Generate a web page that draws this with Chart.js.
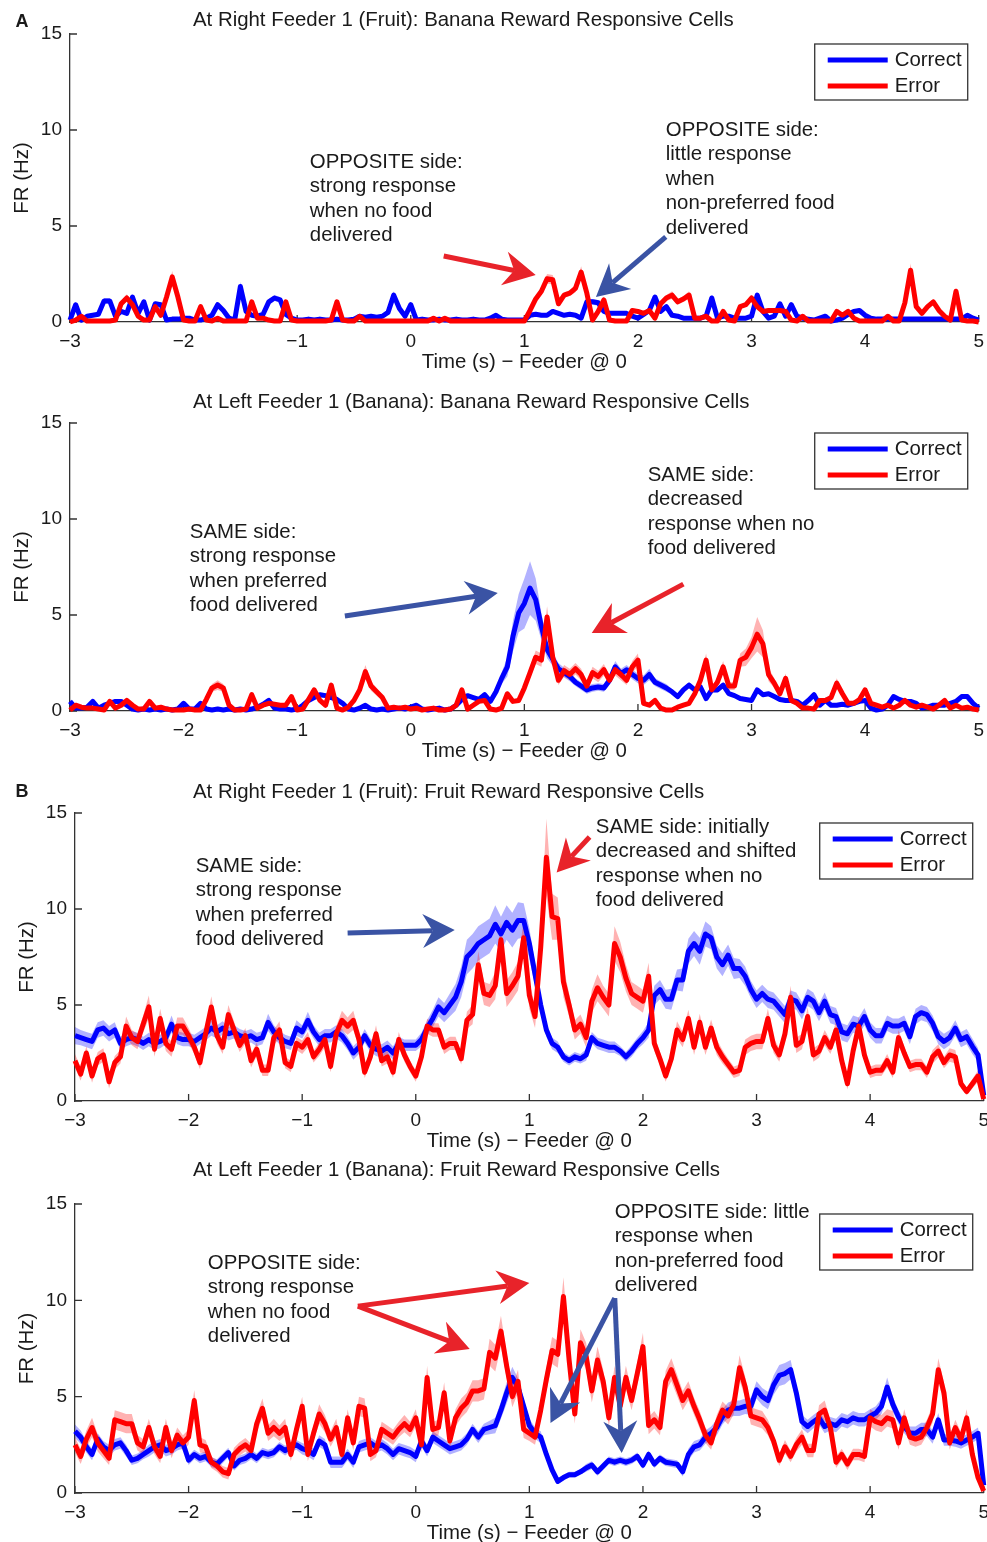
<!DOCTYPE html>
<html>
<head>
<meta charset="utf-8">
<title>Reward responsive cells</title>
<script src="https://cdn.jsdelivr.net/npm/chart.js@4.4.1/dist/chart.umd.min.js"></script>
<style>
  html, body { margin: 0; padding: 0; background: #fff; }
  body { width: 987px; height: 1542px; position: relative; overflow: hidden; }
  canvas { position: absolute; left: 0; }
</style>
</head>
<body>
<canvas id="c1" width="992" height="385" style="top:0px"></canvas>
<canvas id="c2" width="992" height="385" style="top:385px"></canvas>
<canvas id="c3" width="997" height="385" style="top:770px"></canvas>
<canvas id="c4" width="997" height="387" style="top:1155px"></canvas>
<script>
// 50 ms bins from -3 s to +5 s around feeder arrival
const BIN_START = -3, BIN_WIDTH = 0.05, BIN_COUNT = 161;
const timeBins = Array.from({length: BIN_COUNT}, (_, i) => +(BIN_START + i * BIN_WIDTH).toFixed(2));

const xTickLabels = ['\u22123', '\u22122', '\u22121', '0', '1', '2', '3', '4', '5'];
const yTickLabels = ['0', '5', '10', '15'];
const seriesNames = ['Correct', 'Error'];

// A, right feeder: banana cells (one row = one second)
const aRightCorrect = [
  0.1,0.9,0.1,0.3,0.35,0.4,1.1,1.1,0.3,0.55,0.45,1.3,0.45,1.05,0.1,0.95,0.9,0.1,0.15,0.15,
  0.2,0.2,0.1,0.1,0.2,0.35,0.9,0.6,0.2,0.1,1.85,0.55,0.35,0.3,0.4,1.05,1.25,1.15,0.4,0.2,
  0.1,0.1,0.15,0.1,0.15,0.1,0.1,0.15,0.1,0.1,0.15,0.3,0.25,0.3,0.25,0.3,0.5,1.4,0.7,0.3,
  0.9,0.1,0.15,0.1,0.1,0.15,0.1,0.1,0.15,0.1,0.1,0.15,0.1,0.1,0.2,0.35,0.15,0.1,0.1,0.1,
  0.1,0.35,0.4,0.35,0.35,0.55,0.45,0.35,0.4,0.35,0.2,1.05,1.05,1.0,0.55,0.45,0.45,0.45,0.45,0.3,
  0.2,0.4,0.6,1.3,0.55,0.8,0.35,0.3,0.2,0.2,0.2,0.2,0.3,1.25,0.2,0.3,0.3,0.2,0.2,0.2,
  0.3,1.4,0.55,0.2,0.3,0.95,0.3,0.9,0.3,0.2,0.15,0.1,0.2,0.3,0.05,0.1,0.2,0.4,0.55,0.6,
  0.35,0.2,0.15,0.15,0.15,0.15,0.15,0.15,0.15,0.15,0.15,0.15,0.15,0.15,0.15,0.15,0.15,0.15,0.35,0.2,
  0.1];
const aRightCorrectSem = [
  0.08,0.15,0.08,0.1,0.1,0.1,0.15,0.15,0.1,0.1,0.1,0.15,0.1,0.15,0.08,0.12,0.12,0.08,0.08,0.08,
  0.08,0.08,0.08,0.08,0.08,0.1,0.12,0.1,0.08,0.08,0.25,0.1,0.1,0.1,0.1,0.15,0.15,0.15,0.1,0.08,
  0.08,0.08,0.08,0.08,0.08,0.08,0.08,0.08,0.08,0.08,0.08,0.08,0.08,0.08,0.08,0.08,0.1,0.2,0.12,0.1,
  0.12,0.08,0.08,0.08,0.08,0.08,0.08,0.08,0.08,0.08,0.08,0.08,0.08,0.08,0.08,0.08,0.08,0.08,0.08,0.08,
  0.08,0.1,0.1,0.1,0.1,0.12,0.1,0.1,0.1,0.1,0.08,0.15,0.15,0.15,0.1,0.1,0.1,0.1,0.1,0.08,
  0.08,0.1,0.1,0.15,0.1,0.1,0.08,0.08,0.08,0.08,0.08,0.08,0.08,0.15,0.08,0.08,0.08,0.08,0.08,0.08,
  0.08,0.15,0.1,0.08,0.08,0.12,0.08,0.12,0.08,0.08,0.08,0.08,0.08,0.08,0.08,0.08,0.08,0.1,0.1,0.1,
  0.08,0.08,0.08,0.08,0.08,0.08,0.08,0.08,0.08,0.08,0.08,0.08,0.08,0.08,0.08,0.08,0.08,0.08,0.1,0.08,
  0.08];
const aRightError = [
  0,0.1,0.3,0.05,0.05,0.05,0.05,0.05,0.1,0.95,1.25,0.9,0.3,0.1,0.1,0.8,0.35,1.3,2.35,1.3,
  0.1,0.05,0.05,0.8,0.1,0.05,0.2,0.05,0.05,0.05,0.05,0.05,1.05,0.2,0.2,0.1,0.05,0.05,1.05,0.1,
  0.05,0.05,0.05,0.05,0.05,0.05,0.1,1.05,0.1,0.05,0.05,0.3,0.05,0.05,0.05,0.05,0.05,0.05,0.05,0.05,
  0.05,0.05,0.05,0.05,0.2,0.05,0.2,0.05,0.05,0.05,0.05,0.05,0.05,0.05,0.05,0.05,0.05,0.05,0.05,0.05,
  0.05,0.6,1.2,1.6,2.25,2.2,0.95,1.4,1.5,1.75,2.6,1.5,0.1,0.55,1.15,0.1,0.05,0.05,0.05,0.6,
  0.55,0.45,0.6,0.2,0.95,1.25,1.4,1.05,1.2,1.4,0.2,0.2,0.3,0.05,0.05,0.55,0.1,0.05,0.8,0.9,
  1.25,0.8,0.55,0.6,0.6,0.6,0.55,0.1,0.05,0.3,0.05,0.05,0.05,0.05,0.05,0.55,0.35,0.55,0.2,0.05,
  0.05,0.05,0.05,0.05,0.3,0.05,0.05,1.0,2.7,0.8,0.45,0.8,1.05,0.6,0.3,0.1,1.6,0.1,0.05,0.05,
  0];
const aRightErrorSem = [
  0.05,0.05,0.05,0.05,0.05,0.05,0.05,0.05,0.05,0.15,0.2,0.15,0.05,0.05,0.05,0.1,0.05,0.15,0.3,0.15,
  0.05,0.05,0.05,0.1,0.05,0.05,0.05,0.05,0.05,0.05,0.05,0.05,0.15,0.05,0.05,0.05,0.05,0.05,0.15,0.05,
  0.05,0.05,0.05,0.05,0.05,0.05,0.05,0.15,0.05,0.05,0.05,0.05,0.05,0.05,0.05,0.05,0.05,0.05,0.05,0.05,
  0.05,0.05,0.05,0.05,0.05,0.05,0.05,0.05,0.05,0.05,0.05,0.05,0.05,0.05,0.05,0.05,0.05,0.05,0.05,0.05,
  0.05,0.1,0.15,0.2,0.25,0.25,0.15,0.15,0.15,0.2,0.3,0.2,0.05,0.1,0.15,0.05,0.05,0.05,0.05,0.1,
  0.1,0.1,0.1,0.05,0.15,0.15,0.2,0.15,0.15,0.2,0.05,0.05,0.05,0.05,0.05,0.1,0.05,0.05,0.1,0.1,
  0.15,0.1,0.1,0.1,0.1,0.1,0.1,0.05,0.05,0.05,0.05,0.05,0.05,0.05,0.05,0.1,0.05,0.1,0.05,0.05,
  0.05,0.05,0.05,0.05,0.05,0.05,0.05,0.15,0.35,0.15,0.1,0.1,0.15,0.1,0.05,0.05,0.2,0.05,0.05,0.05,
  0.05];

// A, left feeder: banana cells
const aLeftCorrect = [
  0.5,0.15,0.15,0.2,0.5,0.15,0.3,0.4,0.5,0.5,0.3,0.1,0.05,0.1,0.05,0.1,0.05,0.1,0.05,0.1,
  0.4,0.1,0.1,0.4,0.1,0.05,0.1,0.05,0.1,0.05,0.1,0.05,0.1,0.2,0.35,0.55,0.15,0.1,0.1,0.05,
  0.1,0.3,0.55,0.7,0.85,0.8,0.7,0.6,0.4,0.1,0.05,0.15,0.3,0.1,0.05,0.1,0.05,0.1,0.15,0.1,
  0.2,0.3,0.1,0.05,0.1,0.15,0.05,0.1,0.3,0.6,0.8,0.7,0.6,0.85,0.5,1.0,1.7,2.3,3.9,5.1,
  5.6,6.4,5.8,4.4,3.2,2.7,2.2,2.0,1.8,1.5,1.3,1.1,1.2,1.25,1.2,1.6,2.3,1.95,2.15,1.9,
  1.7,1.6,1.9,1.5,1.35,1.2,1.0,0.75,1.1,1.35,1.1,1.25,0.65,1.1,1.1,1.35,0.9,0.8,0.65,0.6,
  0.55,1.1,0.85,0.9,0.75,0.6,0.55,0.55,0.5,0.3,0.55,0.85,0.3,0.55,0.3,0.3,0.35,0.3,0.4,0.5,
  0.55,0.15,0.05,0.1,0.3,0.75,0.6,0.5,0.5,0.4,0.15,0.2,0.3,0.3,0.3,0.4,0.5,0.75,0.75,0.4,
  0.15];
const aLeftCorrectSem = [
  0.08,0.08,0.08,0.08,0.08,0.08,0.08,0.08,0.08,0.08,0.08,0.08,0.08,0.08,0.08,0.08,0.08,0.08,0.08,0.08,
  0.08,0.08,0.08,0.08,0.08,0.08,0.08,0.08,0.08,0.08,0.08,0.08,0.08,0.08,0.08,0.08,0.08,0.08,0.08,0.08,
  0.08,0.1,0.1,0.12,0.12,0.12,0.1,0.1,0.08,0.08,0.08,0.08,0.08,0.08,0.08,0.08,0.08,0.08,0.08,0.08,
  0.08,0.08,0.08,0.08,0.08,0.08,0.08,0.08,0.08,0.08,0.08,0.08,0.08,0.08,0.1,0.15,0.3,0.5,0.8,1.0,
  1.3,1.4,1.1,0.7,0.45,0.35,0.3,0.25,0.25,0.2,0.2,0.2,0.2,0.2,0.2,0.25,0.3,0.25,0.25,0.25,
  0.25,0.25,0.3,0.2,0.2,0.2,0.15,0.15,0.15,0.15,0.15,0.15,0.1,0.12,0.12,0.15,0.12,0.1,0.1,0.1,
  0.1,0.1,0.1,0.1,0.1,0.1,0.1,0.1,0.1,0.1,0.1,0.1,0.1,0.1,0.1,0.1,0.1,0.1,0.1,0.1,
  0.08,0.08,0.08,0.08,0.08,0.08,0.08,0.08,0.08,0.08,0.08,0.08,0.08,0.08,0.08,0.08,0.08,0.08,0.08,0.08,
  0.08];
const aLeftError = [
  0.05,0.3,0.2,0.15,0.15,0.1,0.05,0.5,0.15,0.3,0.55,0.3,0.1,0.1,0.5,0.15,0.2,0.1,0.05,0.05,
  0.05,0.1,0.05,0.05,0.6,1.2,1.35,1.2,0.3,0.05,0.05,0.1,0.85,0.15,0.3,0.4,0.35,0.3,0.3,0.75,
  0.05,0.1,0.6,1.1,0.55,0.3,1.35,0.15,0.05,0.2,0.55,1.1,2.05,1.3,1.0,0.7,0.15,0.2,0.15,0.2,
  0.1,0.15,0.05,0.1,0.15,0.05,0.05,0.1,0.3,1.1,0.1,0.3,0.5,0.55,0.1,0.05,0.15,0.9,0.5,0.55,
  1.2,2.0,2.8,2.65,4.9,2.8,1.6,2.1,1.9,2.2,1.9,1.3,2.0,1.8,2.15,1.6,2.15,1.9,1.6,2.3,
  2.65,0.4,0.3,0.55,0.15,0.05,0.05,0.2,0.3,0.4,0.9,1.6,2.65,1.1,1.5,2.3,1.3,1.3,2.65,2.8,
  3.3,4.0,3.5,1.9,1.45,0.9,1.7,0.55,0.4,0.15,0.15,0.1,0.55,0.55,0.7,1.45,0.9,0.4,0.4,0.6,
  1.1,0.4,0.3,0.2,0.3,0.15,0.3,0.55,0.3,0.2,0.3,0.2,0.1,0.3,0.55,0.15,0.3,0.15,0.2,0.1,
  0.05];
const aLeftErrorSem = [
  0.05,0.05,0.05,0.05,0.05,0.05,0.05,0.05,0.05,0.05,0.05,0.05,0.05,0.05,0.05,0.05,0.05,0.05,0.05,0.05,
  0.05,0.05,0.05,0.05,0.1,0.2,0.25,0.2,0.05,0.05,0.05,0.05,0.1,0.05,0.05,0.05,0.05,0.05,0.05,0.05,
  0.05,0.05,0.1,0.15,0.1,0.05,0.15,0.05,0.05,0.05,0.1,0.2,0.35,0.25,0.2,0.15,0.05,0.05,0.05,0.05,
  0.05,0.05,0.05,0.05,0.05,0.05,0.05,0.05,0.05,0.15,0.05,0.05,0.05,0.05,0.05,0.05,0.05,0.15,0.1,0.1,
  0.2,0.3,0.35,0.35,0.55,0.35,0.25,0.3,0.3,0.3,0.3,0.2,0.3,0.3,0.3,0.25,0.3,0.3,0.25,0.3,
  0.35,0.1,0.1,0.1,0.05,0.05,0.05,0.05,0.1,0.1,0.15,0.25,0.35,0.2,0.25,0.3,0.2,0.2,0.35,0.45,
  0.55,0.9,0.7,0.35,0.25,0.2,0.25,0.1,0.1,0.05,0.05,0.05,0.1,0.1,0.1,0.25,0.15,0.1,0.1,0.1,
  0.15,0.1,0.05,0.05,0.05,0.05,0.05,0.1,0.05,0.05,0.05,0.05,0.05,0.05,0.1,0.05,0.05,0.05,0.05,0.05,
  0.05];

// B, right feeder: fruit cells
const bRightCorrect = [
  3.4,3.3,3.2,3.1,3.7,3.8,3.5,3.7,3.0,3.2,3.3,3.2,3.0,3.2,3.0,3.1,3.3,4.0,3.3,3.2,
  3.2,3.1,3.3,3.5,3.8,3.6,3.8,3.5,3.6,3.4,3.3,3.4,3.2,3.3,4.1,3.6,3.3,3.1,3.0,3.8,
  3.6,4.2,3.6,3.2,3.4,3.4,3.6,3.4,3.0,2.5,2.8,3.4,2.9,2.7,2.6,2.8,2.5,3.0,2.9,2.9,
  2.9,3.2,3.8,4.3,4.9,4.6,5.0,5.4,6.2,7.5,7.8,8.2,8.4,8.6,9.2,8.7,9.3,8.9,9.4,9.4,
  8.2,6.6,5.0,3.7,3.0,2.8,2.3,2.1,2.3,2.2,2.4,3.3,3.0,2.9,2.8,2.8,2.6,2.3,2.6,3.0,
  3.3,3.7,5.5,5.8,5.3,5.3,6.3,6.3,7.8,8.2,7.8,8.7,8.5,7.5,7.1,7.6,6.9,6.9,6.5,5.8,
  5.3,5.6,5.3,5.2,4.85,4.5,5.3,5.2,4.7,5.4,5.2,4.6,5.2,4.5,4.4,3.6,3.5,4.0,3.9,4.4,
  3.7,3.4,3.4,4.05,3.9,3.9,4.05,3.35,4.4,4.6,4.5,4.05,3.35,3.1,3.3,3.8,3.2,3.35,2.85,2.4,
  0.3];
const bRightCorrectSem = [
  0.45,0.4,0.4,0.4,0.4,0.4,0.4,0.4,0.35,0.35,0.35,0.35,0.35,0.35,0.35,0.35,0.35,0.45,0.35,0.35,
  0.35,0.35,0.35,0.35,0.4,0.35,0.35,0.35,0.35,0.35,0.35,0.35,0.35,0.35,0.45,0.35,0.35,0.35,0.35,0.4,
  0.35,0.45,0.35,0.35,0.35,0.35,0.35,0.35,0.35,0.35,0.35,0.35,0.35,0.35,0.35,0.35,0.35,0.35,0.3,0.3,
  0.3,0.35,0.4,0.45,0.5,0.5,0.6,0.7,0.8,0.9,0.9,0.9,0.9,0.9,1.0,0.9,0.9,0.9,0.95,0.9,
  0.8,0.6,0.45,0.35,0.3,0.3,0.25,0.25,0.25,0.25,0.3,0.3,0.3,0.3,0.3,0.3,0.25,0.25,0.3,0.3,
  0.35,0.4,0.5,0.5,0.5,0.55,0.55,0.6,0.65,0.65,0.7,0.65,0.6,0.6,0.6,0.55,0.55,0.5,0.5,0.45,
  0.45,0.45,0.45,0.45,0.45,0.45,0.45,0.45,0.45,0.45,0.45,0.45,0.45,0.45,0.45,0.45,0.45,0.45,0.45,0.45,
  0.4,0.4,0.4,0.4,0.4,0.4,0.4,0.4,0.4,0.4,0.4,0.4,0.4,0.4,0.4,0.4,0.4,0.4,0.4,0.35,
  0.3];
const bRightError = [
  2.1,1.4,2.5,1.3,2.2,2.4,1.0,2.0,2.3,3.9,3.3,3.1,4.0,4.9,2.7,4.3,3.0,2.7,3.9,3.9,
  3.4,2.8,2.0,3.5,4.9,3.4,2.8,4.5,3.7,2.9,3.4,2.1,2.7,1.6,1.6,3.3,3.7,2.0,1.8,3.0,
  2.8,3.2,2.3,2.7,3.2,1.8,3.5,4.2,3.9,4.2,3.2,1.5,2.3,3.5,2.1,2.3,1.5,3.2,2.4,1.8,
  1.3,2.3,3.9,3.7,3.7,2.8,3.0,3.0,2.2,4.2,4.5,7.1,5.6,5.5,6.0,8.4,5.6,6.0,6.5,8.5,
  5.5,4.4,8.0,12.7,9.6,9.5,6.2,5.0,3.7,4.0,3.3,5.2,5.9,5.4,5.0,8.2,7.5,6.4,5.6,5.4,
  5.2,6.5,3.0,2.2,1.3,2.2,3.7,3.2,4.3,2.8,4.1,2.8,3.8,2.8,2.3,1.9,1.5,1.6,2.8,3.0,
  3.1,3.1,4.3,2.9,2.4,3.5,5.4,2.9,3.1,4.4,2.4,2.6,3.3,2.8,3.7,2.1,0.9,2.6,3.9,2.4,
  1.5,1.6,1.6,2.1,1.5,3.3,2.5,1.8,1.9,1.9,1.5,2.3,2.6,2.0,2.4,2.3,0.9,0.5,0.9,1.3,
  0.1];
const bRightErrorSem = [
  0.35,0.35,0.35,0.35,0.35,0.35,0.35,0.35,0.35,0.5,0.4,0.4,0.45,0.6,0.4,0.5,0.4,0.4,0.45,0.45,
  0.4,0.35,0.35,0.4,0.55,0.4,0.35,0.5,0.45,0.35,0.4,0.35,0.35,0.3,0.3,0.4,0.45,0.3,0.3,0.35,
  0.35,0.4,0.3,0.35,0.4,0.3,0.4,0.5,0.45,0.5,0.4,0.3,0.35,0.45,0.3,0.35,0.3,0.4,0.35,0.3,
  0.3,0.35,0.4,0.35,0.35,0.35,0.35,0.35,0.3,0.45,0.5,0.7,0.6,0.6,0.7,0.9,0.7,0.7,0.75,0.9,
  0.7,0.6,1.0,2.0,1.2,1.1,0.8,0.6,0.5,0.5,0.5,0.6,0.7,0.6,0.6,0.9,0.8,0.7,0.6,0.6,
  0.6,0.7,0.4,0.35,0.3,0.35,0.45,0.4,0.45,0.4,0.45,0.4,0.45,0.4,0.35,0.3,0.3,0.3,0.4,0.4,
  0.4,0.4,0.5,0.4,0.35,0.45,0.6,0.4,0.4,0.5,0.35,0.35,0.4,0.35,0.45,0.35,0.3,0.4,0.5,0.35,
  0.3,0.3,0.3,0.35,0.3,0.4,0.35,0.3,0.3,0.3,0.3,0.35,0.35,0.3,0.35,0.35,0.25,0.2,0.25,0.3,
  0.1];

// B, left feeder: fruit cells
const bLeftCorrect = [
  3.2,2.9,2.4,2.0,2.8,2.4,2.2,2.5,2.6,2.2,1.7,1.8,2.0,2.2,2.4,2.5,2.2,2.3,2.5,2.6,
  1.7,2.0,1.8,1.9,1.6,1.5,1.8,2.1,1.4,1.7,1.8,2.0,1.8,2.1,2.0,2.1,2.4,2.2,2.4,2.5,
  2.3,2.2,2.0,2.7,2.5,1.6,1.6,1.6,2.0,1.6,2.4,2.5,2.6,2.4,2.5,2.3,2.0,2.3,2.2,2.1,
  1.9,2.7,2.2,2.9,2.7,2.5,2.3,2.4,2.5,2.8,3.3,2.9,3.3,3.4,3.5,4.3,5.2,6.0,5.5,4.5,
  3.5,3.1,2.9,2.0,1.2,0.6,0.8,0.95,0.95,1.1,1.3,1.45,1.1,1.4,1.7,1.6,1.7,1.6,1.7,1.9,
  1.45,2.0,1.5,1.8,1.6,1.55,1.5,1.1,2.0,2.4,2.5,2.9,3.1,3.4,3.95,4.3,4.4,4.4,4.5,4.5,
  5.35,5.0,4.8,5.6,6.1,6.2,6.4,5.2,3.7,3.45,3.7,3.9,3.45,3.6,3.5,3.8,3.7,3.9,3.8,3.8,
  4.0,4.15,4.5,5.5,4.6,3.95,3.45,3.1,3.1,3.3,3.3,2.9,3.8,2.75,2.75,2.7,2.6,2.75,2.9,3.1,
  0.4];
const bLeftCorrectSem = [
  0.35,0.35,0.3,0.3,0.3,0.3,0.3,0.3,0.3,0.3,0.25,0.25,0.25,0.3,0.3,0.3,0.3,0.3,0.3,0.3,
  0.25,0.25,0.25,0.25,0.25,0.25,0.25,0.25,0.25,0.25,0.25,0.25,0.25,0.25,0.25,0.25,0.25,0.25,0.25,0.25,
  0.3,0.3,0.3,0.3,0.3,0.3,0.3,0.3,0.3,0.3,0.3,0.3,0.3,0.3,0.3,0.3,0.3,0.3,0.3,0.3,
  0.3,0.3,0.3,0.3,0.3,0.3,0.3,0.3,0.3,0.3,0.3,0.3,0.3,0.35,0.4,0.45,0.55,0.55,0.45,0.4,
  0.35,0.3,0.3,0.25,0.2,0.15,0.15,0.15,0.15,0.15,0.2,0.2,0.2,0.2,0.2,0.2,0.2,0.2,0.2,0.2,
  0.2,0.2,0.2,0.2,0.2,0.2,0.2,0.25,0.3,0.3,0.3,0.35,0.35,0.4,0.4,0.4,0.4,0.4,0.4,0.45,
  0.45,0.45,0.45,0.5,0.55,0.55,0.5,0.4,0.35,0.35,0.35,0.35,0.35,0.35,0.35,0.35,0.35,0.35,0.35,0.35,
  0.35,0.35,0.4,0.5,0.4,0.35,0.35,0.35,0.35,0.35,0.35,0.35,0.35,0.3,0.3,0.3,0.3,0.3,0.3,0.3,
  0.2];
const bLeftError = [
  2.5,1.9,2.8,3.4,2.6,2.2,1.8,3.8,3.7,3.6,3.6,2.6,2.4,3.4,2.4,1.9,3.4,2.2,3.0,2.6,
  2.9,4.8,2.5,2.4,1.6,1.4,1.1,1.0,2.0,2.3,2.5,2.2,3.6,4.4,3.1,3.4,3.1,3.4,2.0,3.3,
  4.5,2.0,3.1,4.1,3.6,2.8,3.4,2.0,3.9,2.6,4.5,4.4,2.0,2.2,3.3,3.1,2.9,3.3,3.6,3.3,
  3.9,2.5,6.0,3.3,3.4,5.2,2.7,3.9,4.4,4.7,5.3,5.3,5.4,7.3,7.0,8.4,6.6,5.0,5.8,3.3,
  3.1,2.9,4.3,5.9,7.4,7.2,10.2,6.9,4.1,7.8,7.1,5.3,6.9,5.8,3.9,6.0,4.5,6.0,4.8,6.2,
  7.6,3.5,3.8,3.4,5.8,6.4,5.6,4.8,5.3,4.5,3.8,3.0,2.6,3.6,4.3,4.0,4.6,6.5,5.5,4.0,
  3.9,3.8,3.4,2.7,1.7,2.4,1.9,2.5,2.9,2.2,2.2,4.1,4.3,3.4,1.6,2.0,1.5,2.0,2.0,1.9,
  3.9,3.7,3.6,3.9,3.8,2.6,3.9,2.9,2.8,2.9,3.4,4.1,6.4,5.2,2.6,3.4,2.8,3.9,2.0,0.8,
  0.1];
const bLeftErrorSem = [
  0.4,0.4,0.45,0.5,0.45,0.4,0.35,0.5,0.5,0.5,0.5,0.4,0.4,0.45,0.4,0.35,0.45,0.4,0.4,0.4,
  0.4,0.55,0.4,0.35,0.3,0.3,0.3,0.3,0.35,0.35,0.35,0.35,0.45,0.5,0.4,0.45,0.4,0.45,0.35,0.45,
  0.5,0.35,0.4,0.5,0.45,0.4,0.45,0.35,0.45,0.4,0.5,0.5,0.35,0.35,0.4,0.4,0.4,0.4,0.45,0.4,
  0.45,0.4,0.6,0.4,0.4,0.55,0.4,0.45,0.5,0.5,0.55,0.55,0.55,0.7,0.7,0.8,0.65,0.55,0.6,0.45,
  0.4,0.4,0.5,0.6,0.7,0.7,1.0,0.7,0.5,0.7,0.7,0.6,0.7,0.6,0.45,0.6,0.5,0.6,0.5,0.6,
  0.7,0.45,0.45,0.4,0.55,0.6,0.55,0.5,0.5,0.45,0.45,0.4,0.35,0.45,0.45,0.45,0.5,0.65,0.55,0.45,
  0.45,0.45,0.4,0.35,0.3,0.35,0.3,0.35,0.4,0.35,0.35,0.45,0.5,0.4,0.3,0.3,0.3,0.3,0.3,0.3,
  0.45,0.45,0.45,0.45,0.45,0.35,0.45,0.4,0.4,0.4,0.4,0.45,0.6,0.55,0.35,0.4,0.35,0.45,0.3,0.2,
  0.1];

const FONT = '"Liberation Sans", Arial, Helvetica, sans-serif';
const TEXT = '#1a1a1a';
const AXIS = '#333333';
const BLUE = '#0000ff', RED = '#ff0000';
const ARROW_RED = '#e8232a', ARROW_BLUE = '#3a53a4';

Chart.defaults.font.family = FONT;

// annotation notes and arrows are given in axis units (s, Hz)
const panels = [
  {
    canvas: 'c1', padTop: 34, axisLeft: 70, axisHeight: 63,
    title: 'At Right Feeder 1 (Fruit): Banana Reward Responsive Cells', titleY: 20,
    letter: 'A', yTitleX: 22,
    correct: aRightCorrect, correctSem: aRightCorrectSem, error: aRightError, errorSem: aRightErrorSem,
    notes: [
      {t: -0.889, v: 8.33, lines: ['OPPOSITE side:', 'strong response', 'when no food', 'delivered']},
      {t: 2.245, v: 10.0, lines: ['OPPOSITE side:', 'little response', 'when', 'non-preferred food', 'delivered']}
    ],
    arrows: [
      {from: [0.29, 3.44], to: [1.10, 2.45], color: ARROW_RED},
      {from: [2.245, 4.43], to: [1.63, 1.30], color: ARROW_BLUE}
    ]
  },
  {
    canvas: 'c2', padTop: 38, axisLeft: 70, axisHeight: 59,
    title: 'At Left Feeder 1 (Banana): Banana Reward Responsive Cells', titleY: 17,
    letter: null, yTitleX: 22,
    correct: aLeftCorrect, correctSem: aLeftCorrectSem, error: aLeftError, errorSem: aLeftErrorSem,
    notes: [
      {t: -1.945, v: 9.32, lines: ['SAME side:', 'strong response', 'when preferred', 'food delivered']},
      {t: 2.086, v: 12.29, lines: ['SAME side:', 'decreased', 'response when no', 'food delivered']}
    ],
    arrows: [
      {from: [-0.58, 4.95], to: [0.766, 6.15], color: ARROW_BLUE},
      {from: [2.40, 6.61], to: [1.593, 4.06], color: ARROW_RED}
    ]
  },
  {
    canvas: 'c3', padTop: 43, axisLeft: 75, axisHeight: 54,
    title: 'At Right Feeder 1 (Fruit): Fruit Reward Responsive Cells', titleY: 22,
    letter: 'B', yTitleX: 27,
    correct: bRightCorrect, correctSem: bRightCorrectSem, error: bRightError, errorSem: bRightErrorSem,
    notes: [
      {t: -1.937, v: 12.24, lines: ['SAME side:', 'strong response', 'when preferred', 'food delivered']},
      {t: 1.585, v: 14.27, lines: ['SAME side: initially', 'decreased and shifted', 'response when no', 'food delivered']}
    ],
    arrows: [
      {from: [-0.60, 8.75], to: [0.343, 8.9], color: ARROW_BLUE},
      {from: [1.53, 13.75], to: [1.24, 11.9], color: ARROW_RED}
    ]
  },
  {
    canvas: 'c4', padTop: 49, axisLeft: 75, axisHeight: 49,
    title: 'At Left Feeder 1 (Banana): Fruit Reward Responsive Cells', titleY: 15,
    letter: null, yTitleX: 27,
    correct: bLeftCorrect, correctSem: bLeftCorrectSem, error: bLeftError, errorSem: bLeftErrorSem,
    notes: [
      {t: -1.831, v: 11.94, lines: ['OPPOSITE side:', 'strong response', 'when no food', 'delivered']},
      {t: 1.752, v: 14.58, lines: ['OPPOSITE side: little', 'response when', 'non-preferred food', 'delivered']}
    ],
    arrows: [
      {from: [-0.51, 9.7], to: [1.0, 10.9], color: ARROW_RED},
      {from: [-0.51, 9.7], to: [0.475, 7.47], color: ARROW_RED},
      {from: [1.752, 10.12], to: [1.186, 3.63], color: ARROW_BLUE},
      {from: [1.752, 10.12], to: [1.813, 2.08], color: ARROW_BLUE}
    ]
  }
];

function toPoints(values) {
  return values.map((v, i) => ({x: timeBins[i], y: v}));
}

function bandEdge(values, sem, sign) {
  return values.map((v, i) => ({x: timeBins[i], y: v + sign * sem[i]}));
}

function drawArrow(ctx, x0, y0, x1, y1, color) {
  const ang = Math.atan2(y1 - y0, x1 - x0);
  const len = 32, half = 17, notch = 22;
  const c = Math.cos(ang), s = Math.sin(ang);
  const bx = x1 - notch * c, by = y1 - notch * s;
  const hx = x1 - len * c, hy = y1 - len * s;
  ctx.strokeStyle = color;
  ctx.fillStyle = color;
  ctx.lineWidth = 5;
  ctx.lineCap = 'butt';
  ctx.beginPath();
  ctx.moveTo(x0, y0);
  ctx.lineTo(bx, by);
  ctx.stroke();
  ctx.beginPath();
  ctx.moveTo(x1, y1);
  ctx.lineTo(hx - s * half, hy + c * half);
  ctx.lineTo(bx, by);
  ctx.lineTo(hx + s * half, hy - c * half);
  ctx.closePath();
  ctx.fill();
}

function makeDecor(p) {
  return {
    id: 'decor',
    beforeDatasetsDraw(chart) {
      // MATLAB style ticks pointing into the axes
      const {ctx, chartArea: a, scales: {x, y}} = chart;
      ctx.save();
      ctx.strokeStyle = AXIS;
      ctx.lineWidth = 1.3;
      ctx.beginPath();
      x.ticks.forEach(tk => {
        const px = x.getPixelForValue(tk.value);
        ctx.moveTo(px, a.bottom);
        ctx.lineTo(px, a.bottom - 7);
      });
      y.ticks.forEach(tk => {
        const py = y.getPixelForValue(tk.value);
        ctx.moveTo(a.left, py);
        ctx.lineTo(a.left + 7, py);
      });
      ctx.stroke();
      ctx.restore();
    },
    afterDraw(chart) {
      const {ctx, chartArea: a, scales: {x, y}} = chart;
      ctx.save();
      ctx.fillStyle = TEXT;
      ctx.textBaseline = 'middle';

      ctx.font = '20.4px ' + FONT;
      ctx.textAlign = 'left';
      ctx.fillText(p.title, 193, p.titleY);

      if (p.letter) {
        ctx.font = 'bold 18px ' + FONT;
        ctx.textAlign = 'center';
        ctx.fillText(p.letter, 22, 22);
      }

      // axis titles
      ctx.font = '20.4px ' + FONT;
      ctx.textAlign = 'center';
      ctx.fillText('Time (s) \u2212 Feeder @ 0', (a.left + a.right) / 2, a.bottom + 40);
      ctx.save();
      ctx.translate(p.yTitleX, (a.top + a.bottom) / 2);
      ctx.rotate(-Math.PI / 2);
      ctx.fillText('FR (Hz)', 0, 0);
      ctx.restore();

      // notes
      ctx.textAlign = 'left';
      p.notes.forEach(n => {
        const nx = x.getPixelForValue(n.t), ny = y.getPixelForValue(n.v);
        n.lines.forEach((line, i) => ctx.fillText(line, nx, ny + i * 24.5));
      });

      p.arrows.forEach(ar => {
        drawArrow(ctx,
          x.getPixelForValue(ar.from[0]), y.getPixelForValue(ar.from[1]),
          x.getPixelForValue(ar.to[0]), y.getPixelForValue(ar.to[1]), ar.color);
      });

      // legend box, top right inside the axes
      const bw = 153, bh = 56;
      const bx = a.right - 11 - bw, by = a.top + 10;
      ctx.fillStyle = '#fff';
      ctx.fillRect(bx, by, bw, bh);
      ctx.strokeStyle = AXIS;
      ctx.lineWidth = 1.3;
      ctx.strokeRect(bx, by, bw, bh);
      [BLUE, RED].forEach((col, i) => {
        const ly = by + 16 + i * 26;
        ctx.strokeStyle = col;
        ctx.lineWidth = 5;
        ctx.beginPath();
        ctx.moveTo(bx + 13, ly);
        ctx.lineTo(bx + 73, ly);
        ctx.stroke();
        ctx.fillStyle = TEXT;
        ctx.font = '20.4px ' + FONT;
        ctx.textAlign = 'left';
        ctx.fillText(seriesNames[i], bx + 80, ly);
      });
      ctx.restore();
    }
  };
}

panels.forEach(p => {
  let ctx = document.getElementById(p.canvas).getContext('2d');
  new Chart(ctx, {
    type: 'line',
    data: {
      datasets: [
        {label: 'Correct upper', data: bandEdge(p.correct, p.correctSem, 1), fill: '+1',
         backgroundColor: 'rgba(0,0,255,0.3)', borderWidth: 0, borderColor: 'rgba(0,0,0,0)', order: 5},
        {label: 'Correct lower', data: bandEdge(p.correct, p.correctSem, -1), fill: false,
         borderWidth: 0, borderColor: 'rgba(0,0,0,0)', order: 4},
        {label: 'Error upper', data: bandEdge(p.error, p.errorSem, 1), fill: '+1',
         backgroundColor: 'rgba(255,0,0,0.3)', borderWidth: 0, borderColor: 'rgba(0,0,0,0)', order: 3},
        {label: 'Error lower', data: bandEdge(p.error, p.errorSem, -1), fill: false,
         borderWidth: 0, borderColor: 'rgba(0,0,0,0)', order: 2},
        {label: seriesNames[0], data: toPoints(p.correct), borderColor: BLUE, borderWidth: 5,
         borderJoinStyle: 'round', fill: false, clip: false, order: 1},
        {label: seriesNames[1], data: toPoints(p.error), borderColor: RED, borderWidth: 5,
         borderJoinStyle: 'round', fill: false, clip: false, order: 0}
      ]
    },
    options: {
      responsive: false,
      animation: false,
      layout: {padding: {top: p.padTop, right: 0, left: 0, bottom: 0}},
      elements: {point: {radius: 0}, line: {tension: 0}},
      plugins: {legend: {display: false}, tooltip: {enabled: false}, title: {display: false}},
      scales: {
        x: {
          type: 'linear', min: -3, max: 5,
          grid: {display: false, drawTicks: false},
          border: {display: true, color: AXIS, width: 1.3},
          ticks: {stepSize: 1, autoSkip: false, maxRotation: 0, padding: 8, color: TEXT,
                  font: {size: 19}, callback: v => xTickLabels[Math.round(v) + 3]},
          afterFit: s => { s.height = p.axisHeight; }
        },
        y: {
          min: 0, max: 15,
          grid: {display: false, drawTicks: false},
          border: {display: true, color: AXIS, width: 1.3},
          ticks: {stepSize: 5, autoSkip: false, padding: 8, color: TEXT,
                  font: {size: 19}, callback: v => yTickLabels[Math.round(v / 5)]},
          afterFit: s => { s.width = p.axisLeft; }
        }
      }
    },
    plugins: [makeDecor(p)]
  });
});
</script>
</body>
</html>
